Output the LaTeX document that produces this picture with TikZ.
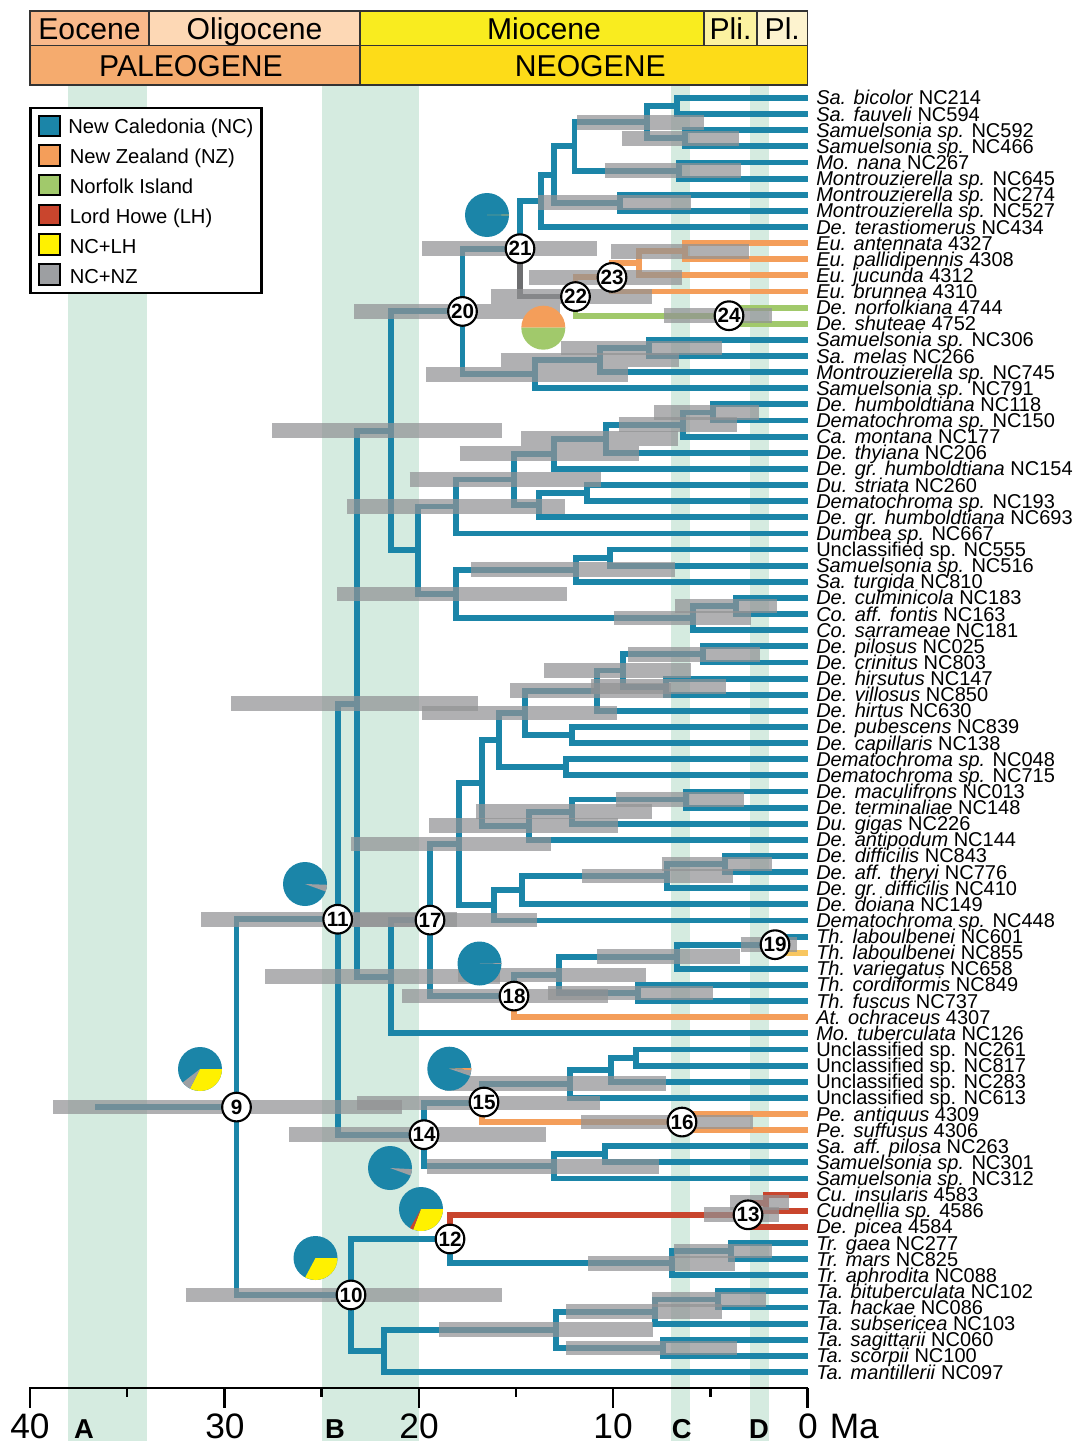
\documentclass[tikz,border=0pt]{standalone}
\usepackage{fontspec}
\setmainfont{Liberation Sans}
\usetikzlibrary{calc}
\definecolor{cNC}{HTML}{1B85A8}
\definecolor{cNZ}{HTML}{F49E5A}
\definecolor{cNI}{HTML}{A1C96B}
\definecolor{cLH}{HTML}{C9452D}
\definecolor{cNL}{HTML}{FFF100}
\definecolor{cNN}{HTML}{9D9FA2}
\definecolor{cDK}{HTML}{6D6E70}
\definecolor{cYO}{HTML}{F8C660}
\definecolor{cBand}{HTML}{D5EBE0}
\definecolor{cHpd}{HTML}{919294}
\definecolor{hEo}{HTML}{F9B98B}
\definecolor{hOl}{HTML}{FDD8B5}
\definecolor{hMi}{HTML}{F9EC1F}
\definecolor{hPli}{HTML}{FCF2A0}
\definecolor{hPl}{HTML}{FDF3CF}
\definecolor{hPg}{HTML}{F5AB6E}
\definecolor{hNg}{HTML}{FDDC18}
\tikzset{
  brn/.style={line width=4.4pt,line join=miter},
  nc/.style={brn,draw=cNC}, nz/.style={brn,draw=cNZ}, ni/.style={brn,draw=cNI},
  lh/.style={brn,draw=cLH}, dk/.style={brn,draw=cDK}, yo/.style={brn,draw=cYO},
  hpdbar/.style={draw=cHpd,line width=11pt,draw opacity=0.72},
  band/.style={fill=cBand},
  num/.style={circle,draw=black,fill=white,line width=1.6pt,minimum size=21.5pt,inner sep=0pt,
     font=\fontsize{15.5}{15.5}\bfseries},
  tiplab/.style={anchor=base west,inner sep=0pt,font=\fontsize{15}{15}\selectfont},
  cell/.style={draw=black!80,line width=0.9pt,anchor=north west,inner sep=0pt,outer sep=0pt,
     text height=16.2pt,text depth=0pt,font=\fontsize{22.6}{22.6}\selectfont},
  swatch/.style={draw=black,line width=1.6pt,minimum width=15.6pt,minimum height=15.6pt,inner sep=0pt},
  leglab/.style={anchor=base west,inner sep=0pt,font=\fontsize{15.15}{15.15}\selectfont},
  axl/.style={inner sep=0pt,anchor=base,font=\fontsize{26.5}{26.5}\selectfont},
  axb/.style={inner sep=0pt,anchor=base,font=\fontsize{20.5}{20.5}\bfseries},
}
\newcommand\tip[3]{\coordinate (t#1) at (807.5,{98+16.127*#1});
  \node[tiplab] (l#1) at (816,{105+16.127*#1}) {\textit{#2}#3};}
\newcommand\ndx[6]{\coordinate (tmpx) at (#2,0); \coordinate (tmpm) at ($(#3)!.5!(#4)$);
  \coordinate (#1) at (tmpx |- tmpm); \draw[#5] (#1) |- (#3); \draw[#6] (#1) |- (#4);}
\newcommand\nd[4]{\ndx{#1}{#2}{#3}{#4}{nc}{nc}}
\newcommand\hpd[3]{\coordinate (ha) at (#1,0); \coordinate (hb) at (#2,0);
  \draw[hpdbar] (ha |- #3) -- (hb |- #3);}
\newcommand\slice[4]{\fill[#4] (#1) -- ++(#2:16.5pt) arc[start angle=#2,end angle=#3,radius=16.5pt] -- cycle;}
\newcommand\piebase[3]{\coordinate (#1) at (#2,#3); \fill[cNC] (#1) circle[radius=16.5pt];}
\newcommand\hcell[7]{\node[cell,fill=#6,minimum width={(#3-#2)*0.75pt},minimum height={(#5-#4)*0.75pt}] (#1) at (#2,#4) {#7};}
\begin{document}
\begin{tikzpicture}[x=0.75pt,y=-0.75pt]
\useasboundingbox (0,0) rectangle (1075,1441);
% bands
\fill[band] (68,85) rectangle (146.5,1441);
\fill[band] (322,85) rectangle (419,1441);
\fill[band] (671,85) rectangle (690,1441);
\fill[band] (750,85) rectangle (769,1441);
% header
\hcell{eo}{30}{149}{11}{45.6}{hEo}{Eocene}
\hcell{ol}{149}{360}{11}{45.6}{hOl}{Oligocene}
\hcell{mi}{360}{704}{11}{45.6}{hMi}{\hspace*{18pt}Miocene}
\hcell{pli}{704}{757}{11}{45.6}{hPli}{Pli.}
\hcell{pl}{757}{807.5}{11}{45.6}{hPl}{Pl.}
\hcell{pg}{30}{360}{45.6}{85}{hPg}{PALEOGENE\hspace*{6pt}}
\hcell{ng}{360}{807.5}{45.6}{85}{hNg}{\hspace*{9.8pt}NEOGENE}
% tips
\tip{0}{Sa. bicolor}{ NC214}
\tip{1}{Sa. fauveli}{ NC594}
\tip{2}{Samuelsonia sp.}{ NC592}
\tip{3}{Samuelsonia sp.}{ NC466}
\tip{4}{Mo. nana}{ NC267}
\tip{5}{Montrouzierella sp.}{ NC645}
\tip{6}{Montrouzierella sp.}{ NC274}
\tip{7}{Montrouzierella sp.}{ NC527}
\tip{8}{De. terastiomerus}{ NC434}
\tip{9}{Eu. antennata}{ 4327}
\tip{10}{Eu. pallidipennis}{ 4308}
\tip{11}{Eu. jucunda}{ 4312}
\tip{12}{Eu. brunnea}{ 4310}
\tip{13}{De. norfolkiana}{ 4744}
\tip{14}{De. shuteae}{ 4752}
\tip{15}{Samuelsonia sp.}{ NC306}
\tip{16}{Sa. melas}{ NC266}
\tip{17}{Montrouzierella sp.}{ NC745}
\tip{18}{Samuelsonia sp.}{ NC791}
\tip{19}{De. humboldtiana}{ NC118}
\tip{20}{Dematochroma sp.}{ NC150}
\tip{21}{Ca. montana}{ NC177}
\tip{22}{De. thyiana}{ NC206}
\tip{23}{De. gr. humboldtiana}{ NC154}
\tip{24}{Du. striata}{ NC260}
\tip{25}{Dematochroma sp.}{ NC193}
\tip{26}{De. gr. humboldtiana}{ NC693}
\tip{27}{Dumbea sp.}{ NC667}
\tip{28}{}{Unclassified sp. NC555}
\tip{29}{Samuelsonia sp.}{ NC516}
\tip{30}{Sa. turgida}{ NC810}
\tip{31}{De. culminicola}{ NC183}
\tip{32}{Co. aff. fontis}{ NC163}
\tip{33}{Co. sarrameae}{ NC181}
\tip{34}{De. pilosus}{ NC025}
\tip{35}{De. crinitus}{ NC803}
\tip{36}{De. hirsutus}{ NC147}
\tip{37}{De. villosus}{ NC850}
\tip{38}{De. hirtus}{ NC630}
\tip{39}{De. pubescens}{ NC839}
\tip{40}{De. capillaris}{ NC138}
\tip{41}{Dematochroma sp.}{ NC048}
\tip{42}{Dematochroma sp.}{ NC715}
\tip{43}{De. maculifrons}{ NC013}
\tip{44}{De. terminaliae}{ NC148}
\tip{45}{Du. gigas}{ NC226}
\tip{46}{De. antipodum}{ NC144}
\tip{47}{De. difficilis}{ NC843}
\tip{48}{De. aff. theryi}{ NC776}
\tip{49}{De. gr. difficilis}{ NC410}
\tip{50}{De. doiana}{ NC149}
\tip{51}{Dematochroma sp.}{ NC448}
\tip{52}{Th. laboulbenei}{ NC601}
\tip{53}{Th. laboulbenei}{ NC855}
\tip{54}{Th. variegatus}{ NC658}
\tip{55}{Th. cordiformis}{ NC849}
\tip{56}{Th. fuscus}{ NC737}
\tip{57}{At. ochraceus}{ 4307}
\tip{58}{Mo. tuberculata}{ NC126}
\tip{59}{}{Unclassified sp. NC261}
\tip{60}{}{Unclassified sp. NC817}
\tip{61}{}{Unclassified sp. NC283}
\tip{62}{}{Unclassified sp. NC613}
\tip{63}{Pe. antiquus}{ 4309}
\tip{64}{Pe. suffusus}{ 4306}
\tip{65}{Sa. aff. pilosa}{ NC263}
\tip{66}{Samuelsonia sp.}{ NC301}
\tip{67}{Samuelsonia sp.}{ NC312}
\tip{68}{Cu. insularis}{ 4583}
\tip{69}{Cudnellia sp.}{ 4586}
\tip{70}{De. picea}{ 4584}
\tip{71}{Tr. gaea}{ NC277}
\tip{72}{Tr. mars}{ NC825}
\tip{73}{Tr. aphrodita}{ NC088}
\tip{74}{Ta. bituberculata}{ NC102}
\tip{75}{Ta. hackae}{ NC086}
\tip{76}{Ta. subsericea}{ NC103}
\tip{77}{Ta. sagittarii}{ NC060}
\tip{78}{Ta. scorpii}{ NC100}
\tip{79}{Ta. mantillerii}{ NC097}
% tree: top clade
\nd{G}{677}{t0}{t1}
\nd{H}{685}{t2}{t3}
\nd{E}{646.7}{G}{H}
\nd{F}{678.7}{t4}{t5}
\nd{C}{574.5}{E}{F}
\nd{D}{619.7}{t6}{t7}
\nd{B}{554}{C}{D}
\nd{Aa}{540.7}{B}{t8}
\ndx{Eb}{685}{t9}{t10}{nz}{nz}
\ndx{Ea}{639.3}{Eb}{t11}{nz}{nz}
\ndx{n23}{612}{Ea}{t12}{nz}{nz}
\ndx{n24}{729}{t13}{t14}{ni}{ni}
\ndx{n22}{575.5}{n23}{n24}{nz}{ni}
\ndx{n21}{520}{Aa}{n22}{nc}{dk}
\nd{S}{649.3}{t15}{t16}
\nd{R}{600}{S}{t17}
\nd{Q}{535}{R}{t18}
\nd{n20}{462.5}{n21}{Q}
% a group
\nd{a1}{713.3}{t19}{t20}
\nd{a2}{682.7}{a1}{t21}
\nd{a3}{606}{a2}{t22}
\nd{a4}{554.3}{a3}{t23}
\nd{a7}{587}{t24}{t25}
\nd{a6}{538.7}{a7}{t26}
\nd{a5}{513.7}{a4}{a6}
\nd{a8}{456.3}{a5}{t27}
\nd{b3}{610.3}{t28}{t29}
\nd{b2}{576}{b3}{t30}
\nd{b4}{736}{t31}{t32}
\nd{b5}{693.3}{b4}{t33}
\nd{b1}{456.3}{b2}{b5}
\nd{a9}{418}{a8}{b1}
\nd{P}{391}{n20}{a9}
% Y group
\nd{Y8}{702.7}{t34}{t35}
\nd{Y9}{666}{t36}{t37}
\nd{Y7}{623.3}{Y8}{Y9}
\nd{Y5}{596.7}{Y7}{t38}
\nd{Y6}{571.7}{t39}{t40}
\nd{Y3}{525}{Y5}{Y6}
\nd{Y4}{565.7}{t41}{t42}
\nd{Y1}{499.3}{Y3}{Y4}
\nd{Y11}{686}{t43}{t44}
\nd{Y10}{571.7}{Y11}{t45}
\nd{Y2}{529.3}{Y10}{t46}
\nd{Y}{482}{Y1}{Y2}
\nd{Z4}{725}{t47}{t48}
\nd{Z3}{667.3}{Z4}{t49}
\nd{Z2}{521.7}{Z3}{t50}
\nd{Z1}{494.3}{Z2}{t51}
\nd{X}{459.3}{Y}{Z1}
% Th group
\ndx{n19}{775}{t52}{t53}{nc}{yo}
\nd{T1}{677.3}{n19}{t54}
\nd{T2}{637.7}{t55}{t56}
\nd{Tt}{559.3}{T1}{T2}
\ndx{n18}{514}{Tt}{t57}{nc}{nz}
\nd{n17}{430}{X}{n18}
\nd{V}{391}{n17}{t58}
\nd{U}{357}{P}{V}
% Unclassified etc
\nd{O2}{636}{t59}{t60}
\nd{O1}{611}{O2}{t61}
\nd{O}{570}{O1}{t62}
\ndx{n16}{682}{t63}{t64}{nz}{nz}
\ndx{n15}{482}{O}{n16}{nc}{nz}
\nd{M1}{605}{t65}{t66}
\nd{M}{554}{M1}{t67}
\nd{n14}{424}{n15}{M}
\nd{n11}{337.7}{U}{n14}
% Lower
\ndx{Cu}{766}{t68}{t69}{lh}{lh}
\ndx{n13}{748}{Cu}{t70}{lh}{lh}
\nd{Tr1}{731}{t71}{t72}
\nd{Tr2}{672.3}{Tr1}{t73}
\ndx{n12}{450}{n13}{Tr2}{lh}{nc}
\nd{W5}{718.3}{t74}{t75}
\nd{W3}{655}{W5}{t76}
\nd{W4}{662.7}{t77}{t78}
\nd{W2}{555.7}{W3}{W4}
\nd{W1}{384}{W2}{t79}
\nd{n10}{351}{n12}{W1}
\nd{n9}{236.5}{n11}{n10}
\coordinate (stem) at (95,0);
\draw[nc] (stem |- n9) -- (n9);
% HPD bars
\hpd{577.3}{703.7}{E}
\hpd{621.7}{739}{H}
\hpd{604.7}{741}{F}
\hpd{538}{691.3}{D}
\hpd{422}{597.3}{n21}
\hpd{611.3}{748.7}{Eb}
\hpd{529}{681.7}{n23}
\hpd{490.7}{652.3}{n22}
\hpd{354}{560}{n20}
\hpd{663.7}{772}{n24}
\hpd{561.3}{722.3}{S}
\hpd{500.7}{678.7}{R}
\hpd{426}{627.7}{Q}
\hpd{654.3}{759.3}{a1}
\hpd{618.7}{736.7}{a2}
\hpd{521}{678}{a3}
\hpd{459.7}{639.3}{a4}
\hpd{409.7}{601}{a5}
\hpd{347}{565}{a8}
\hpd{272}{501.7}{P}
\hpd{471.3}{675.3}{b2}
\hpd{337.3}{566.7}{b1}
\hpd{674.7}{777.3}{b4}
\hpd{613.7}{750.7}{b5}
\hpd{628.3}{760}{Y8}
\hpd{544}{691}{Y7}
\hpd{591}{725.7}{Y9}
\hpd{510.3}{671}{Y5}
\hpd{231}{477.7}{U}
\hpd{422}{616.7}{Y3}
\hpd{615.7}{744.3}{Y11}
\hpd{475.7}{652.3}{Y10}
\hpd{429}{618.3}{Y2}
\hpd{351}{551}{X}
\hpd{661.7}{771.7}{Z4}
\hpd{581.7}{733.3}{Z3}
\hpd{201}{456.7}{n11}
\hpd{352}{536.7}{n17}
\hpd{740.7}{797.3}{n19}
\hpd{597.3}{740}{T1}
\hpd{265}{500}{V}
\hpd{458}{645.7}{Tt}
\hpd{402}{608.3}{n18}
\hpd{548}{712.7}{T2}
\hpd{53.3}{401.7}{n9}
\hpd{357}{600}{n15}
\hpd{445}{666}{O}
\hpd{581.3}{753.3}{n16}
\hpd{289.3}{545.7}{n14}
\hpd{426.7}{659}{M}
\hpd{730}{789.3}{Cu}
\hpd{704}{779}{n13}
\hpd{674}{771.7}{Tr1}
\hpd{588}{735}{Tr2}
\hpd{651.7}{766}{W5}
\hpd{566}{722.3}{W3}
\hpd{439}{653.3}{W2}
\hpd{565.7}{737}{W4}
\hpd{185.7}{502}{n10}
% pies
\piebase{p21}{487}{215} \slice{p21}{1}{-1}{cYO}
\coordinate (p22) at (543.3,327.7);
\slice{p22}{0}{180}{cNZ} \slice{p22}{180}{360}{cNI}
\piebase{p18}{479.5}{963.5} \slice{p18}{1}{-1}{cNN}
\piebase{p11}{305}{884} \slice{p11}{-2}{-20}{cNN}
\piebase{p14}{390}{1168} \slice{p14}{-3}{-20}{cNN}
\piebase{p15}{449.3}{1068.7} \slice{p15}{2}{-4}{cNZ} \slice{p15}{-4}{-19}{cNN}
\piebase{p9}{200}{1069} \slice{p9}{0}{-117}{cNL} \slice{p9}{-117}{-142}{cNN}
\piebase{p10}{315.5}{1258} \slice{p10}{0}{-118}{cNL}
\piebase{p12}{421}{1209} \slice{p12}{0}{-111}{cNL} \slice{p12}{-111}{-120}{cLH}
% numbered nodes
\node[num] (c9) at (n9) {9};
\node[num] (c10) at (n10) {10};
\node[num] (c11) at (n11) {11};
\node[num] (c12) at (n12) {12};
\node[num] (c13) at (n13) {13};
\node[num] (c14) at (n14) {14};
\node[num] (c15) at (484,1102) {15};
\node[num] (c16) at (n16) {16};
\node[num] (c17) at (n17) {17};
\node[num] (c18) at (n18) {18};
\node[num] (c19) at (n19) {19};
\node[num] (c20) at (n20) {20};
\node[num] (c21) at (n21) {21};
\node[num] (c22) at (n22) {22};
\node[num] (c23) at (n23) {23};
\node[num] (c24) at (n24) {24};
% legend
\draw[line width=1.7pt,fill=white] (30.5,108) rectangle (261.5,293);
\node[swatch,fill=cNC] (s1) at (49.5,126) {};
\node[swatch,fill=cNZ] (s2) at (49.5,155.5) {};
\node[swatch,fill=cNI] (s3) at (49.5,185) {};
\node[swatch,fill=cLH] (s4) at (49.5,215) {};
\node[swatch,fill=cNL] (s5) at (49.5,244.5) {};
\node[swatch,fill=cNN] (s6) at (49.5,274.5) {};
\node[leglab] (g1) at (68,133.5) {New Caledonia (NC)};
\node[leglab] (g2) at (69.5,163.5) {New Zealand (NZ)};
\node[leglab] (g3) at (69.5,193.5) {Norfolk Island};
\node[leglab] (g4) at (69.5,223.5) {Lord Howe (LH)};
\node[leglab] (g5) at (69.5,253.5) {NC+LH};
\node[leglab] (g6) at (69.5,283.5) {NC+NZ};
% axis
\draw[line width=1.8pt] (29,1388) -- (808.2,1388);
\foreach \xx in {30,224.4,418.7,613.1,807.5} \draw[line width=1.8pt] (\xx,1388) -- (\xx,1408);
\foreach \xx in {127.2,321.6,515.9,710.3} \draw[line width=1.8pt] (\xx,1388) -- (\xx,1397);
\node[axl] (x40) at (30,1438) {40};
\node[axl] (x30) at (225,1438) {30};
\node[axl] (x20) at (419,1438) {20};
\node[axl] (x10) at (613,1438) {10};
\node[axl] (x0) at (808,1438) {0};
\node[axl,anchor=base west] (xma) at (829.5,1438) {Ma};
\node[axb] (bA) at (84,1438) {A};
\node[axb] (bB) at (335,1438) {B};
\node[axb] (bC) at (681.7,1438) {C};
\node[axb] (bD) at (759,1438) {D};
\end{tikzpicture}
\end{document}
